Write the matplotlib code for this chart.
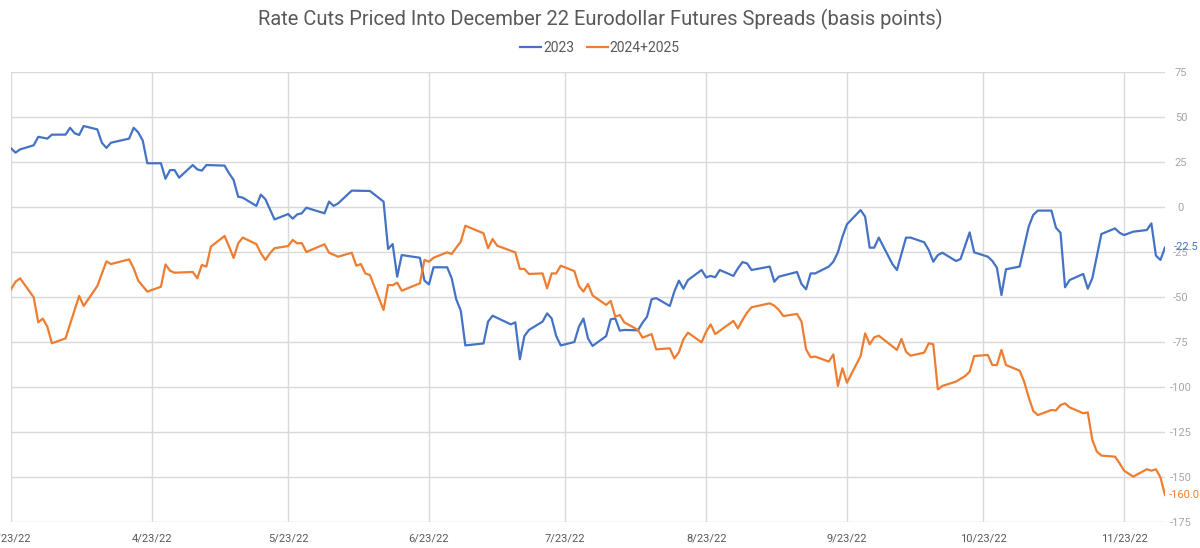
import pandas as pd
import numpy as np
import matplotlib
matplotlib.use("Agg")
import matplotlib.pyplot as plt

plt.rcParams['font.family'] = ['Roboto', 'DejaVu Sans']
plt.rcParams['axes.unicode_minus'] = False

# days since 3/23/22 and values (basis points)
start = pd.Timestamp('2022-03-23')

days_2023 = [0, 1, 2, 5, 6, 8, 9, 12, 13, 14,
             15, 16, 19, 20, 21, 22, 26, 27, 28, 29,
             30, 33, 34, 35, 36, 37, 40, 41, 42, 43,
             47, 48, 49, 50, 51, 54, 55, 56, 58, 61,
             62, 63, 64, 65, 69, 70, 71, 72, 75, 79,
             82, 83, 84, 85, 86, 90, 91, 92, 93, 96,
             97, 98, 99, 100, 104, 105, 106, 110, 111, 112,
             113, 114, 117, 118, 119, 120, 121, 124, 125, 126,
             127, 128, 131, 132, 133, 134, 135, 138, 139, 140,
             141, 142, 145, 146, 147, 148, 149, 152, 153, 154,
             155, 156, 159, 160, 161, 162, 163, 167, 168, 169,
             173, 174, 175, 176, 177, 180, 181, 182, 183, 184,
             187, 188, 189, 190, 191, 194, 195, 197, 198, 201,
             202, 203, 204, 205, 208, 209, 211, 212, 215, 216,
             217, 218, 219, 222, 223, 224, 225, 226, 229, 230,
             231, 232, 233, 236, 237, 238, 240, 243, 244, 245,
             247, 250, 251, 252, 253, 254]
vals_2023 = [32.6, 30.2, 32, 34.3, 39, 38, 40.2, 40.2, 44, 41,
             40, 45, 43.1, 35.7, 32.8, 35.7, 38, 44, 41.5, 36.9,
             24.3, 24.3, 15.7, 20.5, 20.5, 16.3, 23.3, 20.9, 20.2, 23.3,
             23, 18.7, 15, 5.7, 5.2, 0.6, 6.9, 4.3, -6.9, -3.9,
             -6.5, -4.1, -3.5, -0.4, -3.5, 3, 0.6, 2, 9.1, 8.9,
             3, -23.3, -20.6, -38.7, -26.7, -28.2, -40.9, -43, -33.5, -33.5,
             -39.6, -51.3, -57.6, -76.9, -75.8, -63.7, -60.4, -65.2, -64.1, -84.6,
             -71.7, -68.3, -63.7, -59.1, -61.9, -71.7, -76.9, -75, -66.5, -62,
             -73, -77.2, -71.7, -62.4, -61.9, -68.7, -68.3, -68.5, -64.3, -60.9,
             -51.3, -50.6, -55, -47, -40.9, -45.4, -40.6, -35, -39.1, -38.3,
             -39, -35, -38.3, -34.1, -30.6, -31.3, -35, -33.1, -41.5, -38.7,
             -36.1, -42.8, -45.7, -36.9, -36.9, -33.1, -30.4, -25.2, -16.5, -9.6,
             -1.7, -5.4, -22.6, -22.6, -17, -31.7, -35, -17, -17, -19.6,
             -23.9, -30.4, -26.7, -25.4, -30, -28.9, -14.1, -25.2, -27.6, -30,
             -33.7, -48.9, -34.6, -33.1, -22, -10.9, -4.4, -2, -2, -11.5,
             -14.3, -44.6, -40.6, -37.2, -45.4, -39.6, -15, -11.9, -14.3, -15.6,
             -13.7, -12.8, -9.1, -27, -29.4, -22.5]

days_2425 = [0, 1, 2, 5, 6, 7, 8, 9, 12, 14,
             15, 16, 19, 21, 22, 26, 27, 28, 30, 33,
             34, 35, 36, 40, 41, 42, 43, 44, 47, 48,
             49, 50, 51, 54, 55, 56, 57, 58, 61, 62,
             63, 64, 65, 69, 70, 72, 75, 76, 77, 78,
             79, 82, 83, 84, 85, 86, 90, 91, 92, 93,
             96, 97, 98, 99, 100, 104, 105, 106, 107, 111,
             112, 113, 114, 117, 118, 119, 120, 121, 124, 125,
             126, 127, 128, 131, 132, 133, 134, 135, 138, 139,
             141, 142, 145, 146, 147, 148, 149, 152, 153, 154,
             155, 159, 160, 161, 162, 163, 167, 168, 169, 170,
             173, 174, 175, 176, 177, 180, 181, 182, 183, 184,
             187, 188, 189, 190, 191, 195, 196, 197, 198, 201,
             202, 203, 204, 205, 208, 210, 211, 212, 215, 216,
             217, 218, 219, 222, 223, 224, 225, 226, 229, 230,
             231, 232, 233, 236, 237, 238, 239, 240, 243, 244,
             245, 247, 250, 251, 252, 253, 254]
vals_2425 = [-45.7, -41.5, -39.6, -50.2, -64.1, -62, -66.5, -75.7, -73, -57.2,
             -49.4, -55, -43.9, -30.2, -31.7, -29.1, -34.1, -40.9, -47, -44.3,
             -31.9, -35.4, -36.5, -36.1, -39.6, -32.2, -33.1, -22, -16.1, -22,
             -28.3, -20.2, -17, -20.6, -25.7, -29.4, -25.7, -22.9, -21.7, -18.3,
             -20.2, -20, -25, -20.7, -25.4, -27.6, -25.4, -32.6, -31.7, -36.9,
             -37.8, -57.2, -43.3, -43.5, -42, -46.5, -42.4, -29.4, -30.4, -28.2,
             -25.2, -26.1, -22.6, -19.3, -10.4, -14.6, -22.9, -17.8, -21.5, -25.2,
             -34.4, -34.4, -37.2, -36.9, -45.2, -36.9, -36.9, -32.6, -35.6, -43.9,
             -47, -42.8, -49.1, -54.4, -52.2, -60.9, -60, -64.1, -68.3, -72.6,
             -70.6, -79.1, -78.5, -84.1, -80.7, -73.5, -69.8, -75.2, -69.3, -65.2,
             -70.6, -63.3, -67.4, -62.8, -58.7, -55.7, -53.5, -54.8, -57.2, -60.6,
             -59.4, -63.7, -79.1, -83.5, -83.1, -85.9, -81.9, -99.4, -89.6, -97.6,
             -82.8, -70.2, -76.3, -72.4, -71.5, -79.4, -73.3, -80.4, -82.6, -80.9,
             -75.7, -76.3, -101.3, -99.4, -97, -93.9, -91.5, -82.8, -82.2, -87.8,
             -87.8, -79.4, -87.8, -90.9, -97, -105.7, -113.3, -115.6, -112.8, -113,
             -110, -109.1, -111.3, -114.6, -114.1, -129.4, -135.9, -138.1, -138.7, -142.4,
             -146.5, -149.8, -145.7, -146.5, -145.7, -150.2, -160]

tick_dates = ['2022-03-23', '2022-04-23', '2022-05-23', '2022-06-23', '2022-07-23',
              '2022-08-23', '2022-09-23', '2022-10-23', '2022-11-23']
y_ticks = [75, 50, 25, 0, -25, -50, -75, -100, -125, -150, -175]

blue = '#4472C4'
orange = '#ED7D31'
grid_col = '#D9D9D9'
text_col = '#595959'
tick_col = '#A6A6A6'

x1 = start + pd.to_timedelta(days_2023, unit='D')
x2 = start + pd.to_timedelta(days_2425, unit='D')

fig = plt.figure(figsize=(12, 5.48), dpi=100)
ax = fig.add_axes([11 / 1200, 1 - 522 / 548, (1165 - 11) / 1200, (522 - 72) / 548])

ax.plot(x1, vals_2023, color=blue, lw=1.6, label='2023', zorder=3)
ax.plot(x2, vals_2425, color=orange, lw=1.6, label='2024+2025', zorder=3)

ax.set_ylim(-175, 75)
ax.set_xlim(start, pd.Timestamp('2022-12-02'))

ax.yaxis.tick_right()
ax.set_yticks(y_ticks)
ax.set_yticklabels([str(v) for v in y_ticks])
ticks = pd.to_datetime(tick_dates)
ax.set_xticks(ticks)
ax.set_xticklabels([f"{d.month}/{d.day}/{d.strftime('%y')}" for d in ticks])

ax.tick_params(axis='y', length=0, pad=11.5, labelsize=8, labelcolor=tick_col)
ax.tick_params(axis='x', length=0, pad=8, labelsize=8, labelcolor=text_col)
for lab in ax.get_yticklabels():
    lab.set_horizontalalignment('center')

ax.grid(True, color=grid_col, lw=1)
ax.set_axisbelow(True)
for s in ax.spines.values():
    s.set_visible(False)

# end-of-series labels
ax.annotate('-22.5', (x1[-1], vals_2023[-1]), xytext=(6, 0), textcoords='offset points',
            color=blue, fontsize=8, va='center', ha='left')
ax.annotate('-160.0', (x2[-1], vals_2425[-1]), xytext=(3, 0), textcoords='offset points',
            color=orange, fontsize=8, va='center', ha='left')

fig.text(0.5, 1 - 19 / 548,
         'Rate Cuts Priced Into December 22 Eurodollar Futures Spreads (basis points)',
         ha='center', va='center', fontsize=14.5, color=text_col)
fig.legend(loc='center', bbox_to_anchor=(0.5, 1 - 48 / 548), ncol=2, frameon=False,
           fontsize=10, handlelength=1.5, handletextpad=0.15, columnspacing=0.9,
           labelcolor=text_col)

fig.savefig('out.png', dpi=100)
